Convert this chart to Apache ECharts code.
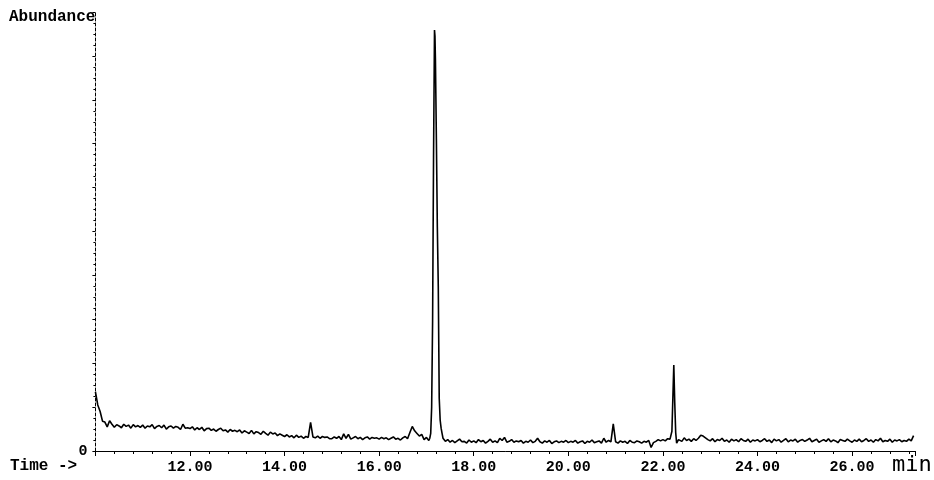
<!DOCTYPE html>
<html>
<head>
<meta charset="utf-8">
<script src="https://cdn.jsdelivr.net/npm/echarts@6/dist/echarts.min.js"></script>
<style>
  html, body { margin: 0; padding: 0; background: #fff; }
  #chart { width: 934px; height: 480px; }
</style>
</head>
<body>
<div id="chart"></div>
<script>
// Retention time (min)
const time = [
  10,10.05,10.1,10.15,10.2,10.25,10.3,10.35,10.4,10.45,10.5,10.55,10.6,10.65,10.7,10.75,10.8,10.85,10.9,10.95,
  11,11.05,11.1,11.15,11.2,11.25,11.3,11.35,11.4,11.45,11.5,11.55,11.6,11.65,11.7,11.75,11.8,11.85,11.9,11.95,
  12,12.05,12.1,12.15,12.2,12.25,12.3,12.35,12.4,12.45,12.5,12.55,12.6,12.65,12.7,12.75,12.8,12.85,12.9,12.95,
  13,13.05,13.1,13.15,13.2,13.25,13.3,13.35,13.4,13.45,13.5,13.55,13.6,13.65,13.7,13.75,13.8,13.85,13.9,13.95,
  14,14.05,14.1,14.15,14.2,14.25,14.3,14.35,14.4,14.45,14.5,14.55,14.6,14.65,14.7,14.75,14.8,14.85,14.9,14.95,
  15,15.05,15.1,15.15,15.2,15.25,15.3,15.35,15.4,15.45,15.5,15.55,15.6,15.65,15.7,15.75,15.8,15.85,15.9,15.95,
  16,16.05,16.1,16.15,16.2,16.25,16.3,16.35,16.4,16.45,16.5,16.55,16.6,16.65,16.7,16.75,16.8,16.85,16.9,16.95,
  17,17.05,17.07,17.09,17.11,17.13,17.15,17.17,17.18,17.19,17.21,17.23,17.25,17.27,17.29,17.31,17.33,17.35,17.4,17.45,17.5,17.55,17.6,17.65,17.7,17.75,17.8,17.85,17.9,17.95,
  18,18.05,18.1,18.15,18.2,18.25,18.3,18.35,18.4,18.45,18.5,18.55,18.6,18.65,18.7,18.75,18.8,18.85,18.9,18.95,
  19,19.05,19.1,19.15,19.2,19.25,19.3,19.35,19.4,19.45,19.5,19.55,19.6,19.65,19.7,19.75,19.8,19.85,19.9,19.95,
  20,20.05,20.1,20.15,20.2,20.25,20.3,20.35,20.4,20.45,20.5,20.55,20.6,20.65,20.7,20.75,20.8,20.85,20.9,20.95,
  21,21.05,21.1,21.15,21.2,21.25,21.3,21.35,21.4,21.45,21.5,21.55,21.6,21.65,21.7,21.75,21.8,21.85,21.9,21.95,
  22,22.05,22.1,22.15,22.19,22.21,22.23,22.25,22.27,22.29,22.33,22.4,22.45,22.5,22.55,22.6,22.65,22.7,22.75,22.8,22.85,22.9,22.95,
  23,23.05,23.1,23.15,23.2,23.25,23.3,23.35,23.4,23.45,23.5,23.55,23.6,23.65,23.7,23.75,23.8,23.85,23.9,23.95,
  24,24.05,24.1,24.15,24.2,24.25,24.3,24.35,24.4,24.45,24.5,24.55,24.6,24.65,24.7,24.75,24.8,24.85,24.9,24.95,
  25,25.05,25.1,25.15,25.2,25.25,25.3,25.35,25.4,25.45,25.5,25.55,25.6,25.65,25.7,25.75,25.8,25.85,25.9,25.95,
  26,26.05,26.1,26.15,26.2,26.25,26.3,26.35,26.4,26.45,26.5,26.55,26.6,26.65,26.7,26.75,26.8,26.85,26.9,26.95,
  27,27.05,27.1,27.15,27.2,27.25,27.3
];

// Abundance (relative units, full scale = 100)
const abundance = [
  13.5,10.5,9.0,6.8,6.6,5.5,6.9,6.1,5.4,6.0,5.7,5.3,6.1,5.6,5.9,5.2,6.0,5.5,5.8,5.4,
  5.9,5.2,5.7,5.5,6.0,5.1,5.6,5.8,5.3,5.9,5.0,5.5,5.7,5.2,5.6,5.4,4.9,6.1,5.2,5.3,
  5.1,5.5,4.8,5.3,4.9,5.4,4.6,5.1,5.2,4.7,5.0,4.5,4.9,5.2,4.6,4.8,4.3,4.9,4.5,4.7,
  4.4,4.8,4.1,4.6,4.3,4.0,4.7,3.9,4.4,4.2,3.8,4.5,4.0,3.6,4.3,3.9,4.1,3.5,3.9,3.6,
  3.3,3.7,3.2,3.5,3.0,3.6,3.1,3.4,2.9,3.3,3.1,6.5,3.2,3.0,3.4,2.9,3.3,3.1,3.2,2.8,
  2.8,3.2,2.9,3.3,2.6,3.9,2.9,3.8,2.7,3.0,3.3,2.8,3.1,2.6,3.0,3.2,2.7,3.1,2.9,3.0,
  2.7,3.1,2.8,3.0,2.6,2.9,3.2,2.7,2.9,2.5,3.0,3.3,2.8,4.2,5.6,4.6,4.0,3.4,3.8,2.6,
  3.1,2.4,2.9,4.0,10,29.6,67,95.9,94.5,89,71,51,37.5,12,7,5.2,4.0,2.9,2.2,2.6,2.0,2.4,1.9,2.3,2.7,2.1,2.2,1.8,2.5,2.0,
  2.3,1.9,2.6,2.1,2.4,1.8,2.2,2.7,2.0,2.3,1.9,2.9,2.4,3.1,2.0,2.2,2.6,2.0,2.3,2.1,
  2.4,1.8,2.2,2.0,2.5,1.9,2.2,2.9,2.1,1.8,2.3,2.0,2.4,1.7,2.1,2.3,1.9,2.2,2.0,2.4,
  1.9,2.2,2.0,2.4,1.8,2.1,2.3,1.7,2.2,2.0,2.5,1.9,2.1,2.3,1.8,2.9,2.0,2.4,2.1,6.2,
  2.1,1.8,2.3,2.0,2.2,1.7,2.4,2.0,1.9,2.3,2.1,1.8,2.2,2.0,2.4,0.8,1.9,2.2,2.6,2.3,
  2.6,2.3,2.8,2.7,4.5,12,19.6,11,4.2,1.8,2.6,2.2,3.0,2.4,2.7,2.2,2.8,2.4,2.9,3.6,3.4,3.0,2.6,
  2.3,2.8,2.1,2.6,2.4,2.9,2.2,2.5,2.0,2.7,2.3,2.6,2.1,2.8,2.4,2.2,2.7,2.0,2.5,2.3,
  2.6,2.1,2.4,2.8,2.2,2.5,1.9,2.7,2.3,2.6,2.0,2.4,2.8,2.1,2.5,2.3,2.7,2.0,2.4,2.6,
  2.2,2.5,2.9,2.1,2.4,2.7,2.0,2.3,2.6,2.2,2.8,2.1,2.5,2.3,1.9,2.6,2.4,2.2,2.7,2.3,
  2.0,2.5,2.2,2.7,2.1,2.4,2.8,2.2,2.5,2.0,2.6,2.3,2.9,2.1,2.4,2.2,2.7,2.0,2.5,2.3,
  2.6,2.1,2.4,2.2,2.7,2.3,3.5
];

// Axis tick labels
const xTickLabels = ['12.00','14.00','16.00','18.00','20.00','22.00','24.00','26.00'];
const yTickLabels = ['0'];

if (time.length !== abundance.length) {
  console.error('length mismatch', time.length, abundance.length);
}
const seriesData = time.map((t, i) => [t, abundance[i]]);

const monoFont = '"Liberation Mono", "Courier New", monospace';
const chart = echarts.init(document.getElementById('chart'), null, { renderer: 'canvas' });
chart.setOption({
  animation: false,
  backgroundColor: '#ffffff',
  grid: { left: 95.4, right: 19, top: 12, bottom: 29, containLabel: false },
  xAxis: {
    type: 'value',
    min: 10,
    max: 27.33,
    interval: 2,
    axisLine: { show: true, lineStyle: { color: '#000', width: 1 } },
    axisTick: { show: true, length: 5, lineStyle: { color: '#000', width: 1 } },
    minorTick: { show: true, splitNumber: 5, length: 3, lineStyle: { color: '#000', width: 1 } },
    splitLine: { show: false },
    axisLabel: {
      color: '#000',
      fontFamily: monoFont,
      fontWeight: 'bold',
      fontSize: 15,
      margin: 9,
      showMaxLabel: false,
      formatter: function (v) {
        const s = Number(v).toFixed(2);
        return xTickLabels.indexOf(s) >= 0 ? s : '';
      }
    }
  },
  yAxis: {
    type: 'value',
    min: 0,
    max: 100,
    interval: 10,
    axisLine: { show: true, lineStyle: { color: '#000', width: 1, type: [3, 2] } },
    axisTick: { show: true, length: 3, lineStyle: { color: '#000', width: 1 } },
    minorTick: { show: true, splitNumber: 4, length: 2, lineStyle: { color: '#000', width: 1 } },
    splitLine: { show: false },
    axisLabel: {
      color: '#000',
      fontFamily: monoFont,
      fontWeight: 'bold',
      fontSize: 15,
      margin: 8,
      formatter: function (v) {
        const s = String(v);
        return yTickLabels.indexOf(s) >= 0 ? s : '';
      }
    }
  },
  graphic: [
    { type: 'text', left: 9, top: 9, style: { text: 'Abundance', font: 'bold 16px ' + monoFont, fill: '#000' } },
    { type: 'text', left: 10, top: 458, style: { text: 'Time ->', font: 'bold 16px ' + monoFont, fill: '#000' } },
    { type: 'text', left: 892, top: 454, style: { text: 'min', font: '22px "DejaVu Sans Mono", monospace', fill: '#000' } }
  ],
  series: [{
    type: 'line',
    data: seriesData,
    showSymbol: false,
    symbol: 'none',
    sampling: null,
    lineStyle: { color: '#000', width: 1.6 },
    z: 3
  }]
});
</script>
</body>
</html>
